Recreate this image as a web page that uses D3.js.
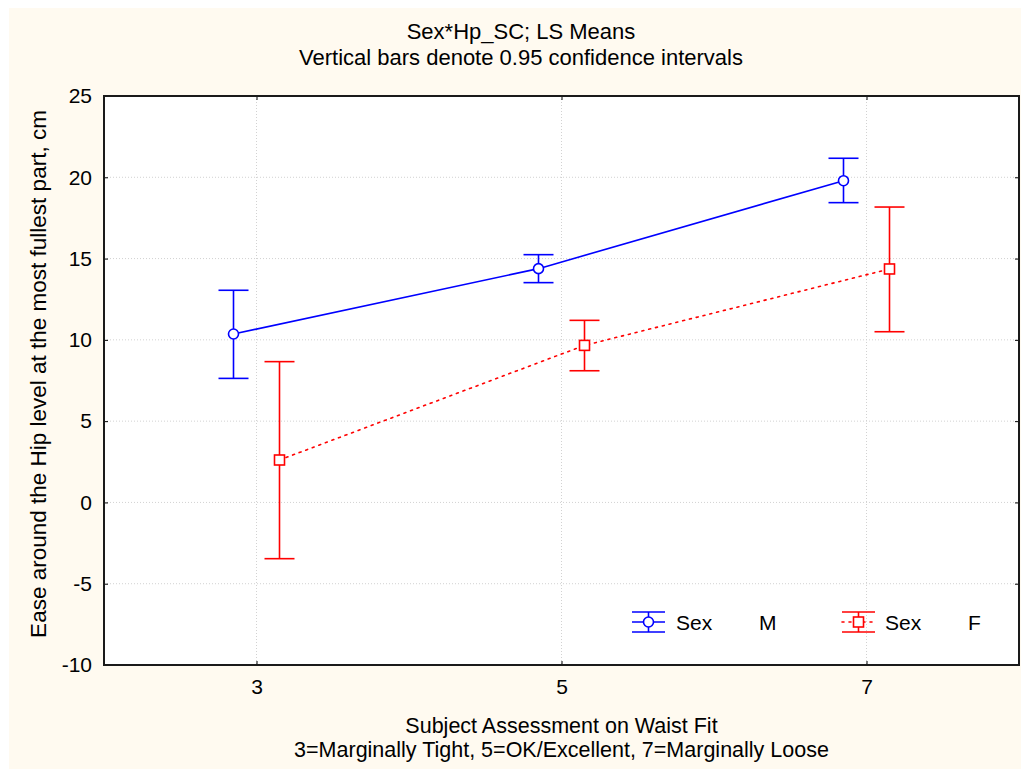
<!DOCTYPE html>
<html>
<head>
<meta charset="utf-8">
<script src="https://cdn.jsdelivr.net/npm/d3@7"></script>
<style>
  html, body { margin: 0; padding: 0; background: #ffffff; }
  svg { display: block; }
  text { font-family: "Liberation Sans", Arial, sans-serif; fill: #000; }
</style>
</head>
<body>
<svg id="chart" width="1021" height="769"></svg>
<script>
// ---- data ----
const categories = ["3", "5", "7"];
const yTicks = [-10, -5, 0, 5, 10, 15, 20, 25];
const seriesNames = ["M", "F"];
const meanM = [10.36, 14.38, 19.79];
const lowM  = [7.63, 13.52, 18.44];
const highM = [13.05, 15.24, 21.17];
const meanF = [2.61, 9.66, 14.36];
const lowF  = [-3.46, 8.10, 10.50];
const highF = [8.66, 11.20, 18.17];

const titleLines = ["Sex*Hp_SC; LS Means", "Vertical bars denote 0.95 confidence intervals"];
const xTitleLines = ["Subject Assessment on Waist Fit", "3=Marginally Tight, 5=OK/Excellent, 7=Marginally Loose"];
const yTitle = "Ease around the Hip level at the most fullest part, cm";

// ---- layout ----
const svg = d3.select("#chart");
const L = 104, R = 1019, T = 96, B = 665;
const FONT = "Liberation Sans, Arial, sans-serif";

svg.append("rect").attr("x", 9).attr("y", 8).attr("width", 1012).attr("height", 761).attr("fill", "#fffaf0");
svg.append("rect").attr("x", L).attr("y", T).attr("width", R - L).attr("height", B - T).attr("fill", "#ffffff");

const x = d3.scalePoint().domain(categories).range([L, R]).padding(0.5);
const y = d3.scaleLinear().domain([-10, 25]).range([B, T]);

// grid
const grid = svg.append("g");
grid.selectAll("line.hy").data(yTicks.slice(1, -1)).enter().append("line")
  .attr("x1", L).attr("x2", R).attr("y1", d => y(d)).attr("y2", d => y(d))
  .attr("stroke", "#d2d2d2").attr("stroke-width", 1).attr("stroke-dasharray", "1,2");
grid.selectAll("line.vx").data(categories).enter().append("line")
  .attr("x1", d => x(d)).attr("x2", d => x(d)).attr("y1", T).attr("y2", B)
  .attr("stroke", "#d2d2d2").attr("stroke-width", 1).attr("stroke-dasharray", "1,2");

// axes
const yAxis = d3.axisLeft(y).tickValues(yTicks).tickFormat(d => String(d)).tickSize(-4).tickPadding(12);
const gy = svg.append("g").attr("transform", `translate(${L},0)`).call(yAxis);
gy.select(".domain").remove();
gy.selectAll("text").attr("font-size", 21).attr("font-family", FONT);
gy.selectAll(".tick line").attr("stroke", "#000");

const xAxis = d3.axisBottom(x).tickSize(-4).tickPadding(14);
const gx = svg.append("g").attr("transform", `translate(0,${B})`).call(xAxis);
gx.select(".domain").remove();
gx.selectAll("text").attr("font-size", 21).attr("font-family", FONT);
gx.selectAll(".tick line").attr("stroke", "#000");
const gxt = svg.append("g").attr("transform", `translate(0,${T})`).call(d3.axisTop(x).tickSize(-4).tickFormat(""));
gxt.select(".domain").remove();
gxt.selectAll(".tick line").attr("stroke", "#000");
const gyr = svg.append("g").attr("transform", `translate(${R},0)`).call(d3.axisRight(y).tickValues(yTicks).tickSize(-4).tickFormat(""));
gyr.select(".domain").remove();
gyr.selectAll(".tick line").attr("stroke", "#000");

// border
svg.append("rect").attr("x", L).attr("y", T).attr("width", R - L).attr("height", B - T)
  .attr("fill", "none").attr("stroke", "#1a1a1a").attr("stroke-width", 2);

// series
const series = [
  { name: "M", mean: meanM, low: lowM, high: highM, color: "#0000ff", dx: -23, dash: null, marker: "circle" },
  { name: "F", mean: meanF, low: lowF, high: highF, color: "#ff0000", dx: 23, dash: "2,5", marker: "square" }
];
const capW = 15, mr = 5;

series.forEach(s => {
  const g = svg.append("g");
  const pts = categories.map((c, i) => ({ c, m: s.mean[i], lo: s.low[i], hi: s.high[i] }));
  const line = d3.line().x(d => x(d.c) + s.dx).y(d => y(d.m));
  g.append("path").datum(pts).attr("d", line).attr("fill", "none")
    .attr("stroke", s.color).attr("stroke-width", 1.6)
    .attr("stroke-dasharray", s.dash).attr("stroke-linecap", s.dash ? "round" : "butt");
  pts.forEach(d => {
    const cx = x(d.c) + s.dx;
    g.append("line").attr("x1", cx).attr("x2", cx).attr("y1", y(d.hi)).attr("y2", y(d.lo))
      .attr("stroke", s.color).attr("stroke-width", 1.6);
    [d.hi, d.lo].forEach(v => {
      g.append("line").attr("x1", cx - capW).attr("x2", cx + capW).attr("y1", y(v)).attr("y2", y(v))
        .attr("stroke", s.color).attr("stroke-width", 1.6);
    });
    if (s.marker === "circle") {
      g.append("circle").attr("cx", cx).attr("cy", y(d.m)).attr("r", mr)
        .attr("fill", "#fff").attr("stroke", s.color).attr("stroke-width", 1.6);
    } else {
      g.append("rect").attr("x", cx - mr).attr("y", y(d.m) - mr).attr("width", 2 * mr).attr("height", 2 * mr)
        .attr("fill", "#fff").attr("stroke", s.color).attr("stroke-width", 1.6);
    }
  });
});

// legend
const legendPos = [{ x: 632, tx: 676, vx: 759 }, { x: 842, tx: 885, vx: 968 }];
series.forEach((s, i) => {
  const p = legendPos[i];
  const g = svg.append("g");
  const cy = 622, w = 33, cx = p.x + w / 2;
  g.append("line").attr("x1", p.x).attr("x2", p.x + w).attr("y1", cy - 10).attr("y2", cy - 10).attr("stroke", s.color).attr("stroke-width", 1.6);
  g.append("line").attr("x1", p.x).attr("x2", p.x + w).attr("y1", cy + 10).attr("y2", cy + 10).attr("stroke", s.color).attr("stroke-width", 1.6);
  g.append("line").attr("x1", cx).attr("x2", cx).attr("y1", cy - 10).attr("y2", cy + 10).attr("stroke", s.color).attr("stroke-width", 1.6);
  g.append("line").attr("x1", p.x).attr("x2", p.x + w).attr("y1", cy).attr("y2", cy)
    .attr("stroke", s.color).attr("stroke-width", 1.6).attr("stroke-dasharray", s.dash).attr("stroke-linecap", s.dash ? "round" : "butt");
  if (s.marker === "circle") {
    g.append("circle").attr("cx", cx).attr("cy", cy).attr("r", mr).attr("fill", "#fff").attr("stroke", s.color).attr("stroke-width", 1.6);
  } else {
    g.append("rect").attr("x", cx - mr).attr("y", cy - mr).attr("width", 2 * mr).attr("height", 2 * mr).attr("fill", "#fff").attr("stroke", s.color).attr("stroke-width", 1.6);
  }
  g.append("text").attr("x", p.tx).attr("y", 630).attr("font-size", 21).text("Sex");
  g.append("text").attr("x", p.vx).attr("y", 630).attr("font-size", 21).text(s.name);
});

// titles
svg.append("text").attr("x", 521).attr("y", 39).attr("text-anchor", "middle").attr("font-size", 22).text(titleLines[0]);
svg.append("text").attr("x", 521).attr("y", 65).attr("text-anchor", "middle").attr("font-size", 22).text(titleLines[1]);
svg.append("text").attr("x", (L + R) / 2).attr("y", 733).attr("text-anchor", "middle").attr("font-size", 21.5).text(xTitleLines[0]);
svg.append("text").attr("x", (L + R) / 2).attr("y", 757).attr("text-anchor", "middle").attr("font-size", 21.5).text(xTitleLines[1]);
svg.append("text").attr("transform", `translate(46,374) rotate(-90)`).attr("text-anchor", "middle").attr("font-size", 22.5).text(yTitle);
</script>
</body>
</html>
